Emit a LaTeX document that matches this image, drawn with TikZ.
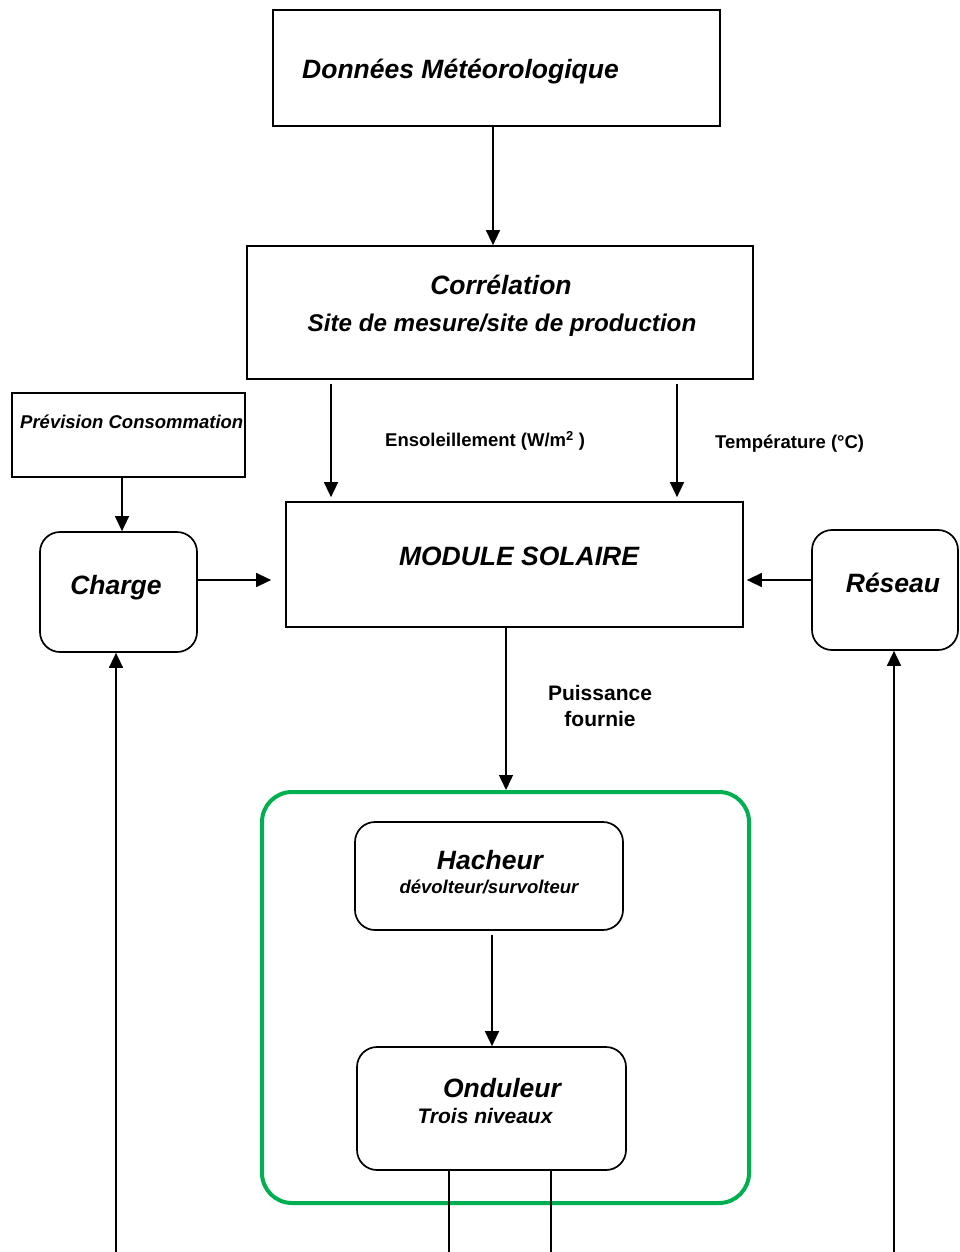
\documentclass[tikz,border=0pt]{standalone}
\usepackage{fontspec}
\setmainfont{Liberation Sans}
\usetikzlibrary{arrows.meta,calc}
\definecolor{boxgreen}{RGB}{0,176,80}
\begin{document}
\begin{tikzpicture}[x=1pt,y=-1pt,
  box/.style={draw,line width=1.7pt,inner sep=0pt},
  rbox/.style={box,rounded corners=20pt},
  conn/.style={line width=1.4pt,-{Triangle[length=15pt,width=14pt]}},
  wire/.style={line width=1.4pt},
  big/.style={font=\fontsize{26.5}{30}\selectfont\bfseries\itshape,inner sep=0pt,anchor=base},
  bigs/.style={font=\fontsize{24.2}{28}\selectfont\bfseries\itshape,inner sep=0pt,anchor=base},
  mid/.style={font=\fontsize{21}{24}\selectfont\bfseries\itshape,inner sep=0pt,anchor=base},
  small/.style={font=\fontsize{18.5}{22}\selectfont\bfseries\itshape,inner sep=0pt,anchor=base},
  lab/.style={font=\fontsize{18.5}{22}\selectfont\bfseries,inner sep=0pt,anchor=base},
  labm/.style={font=\fontsize{21}{24}\selectfont\bfseries,inner sep=0pt,anchor=base},
]
\useasboundingbox (0,0) rectangle (960,1252);

% blocks
\node[box,minimum width=447pt,minimum height=116pt] (meteo) at (496.5,68) {};
\node[box,minimum width=506pt,minimum height=133pt] (correl) at (500,312.5) {};
\node[box,minimum width=233pt,minimum height=84pt] (prev) at (128.5,435) {};
\node[rbox,minimum width=157pt,minimum height=120pt] (charge) at (118.5,592) {};
\node[box,minimum width=457pt,minimum height=125pt] (module) at (514.5,564.5) {};
\node[rbox,minimum width=146pt,minimum height=120pt] (reseau) at (885,590) {};
\node[draw=boxgreen,line width=4pt,rounded corners=30pt,inner sep=0pt,
      minimum width=487pt,minimum height=411pt] (green) at (505.5,997.5) {};
\node[rbox,minimum width=268pt,minimum height=108pt] (hacheur) at (489,876) {};
\node[rbox,minimum width=269pt,minimum height=123pt] (onduleur) at (491.5,1108.5) {};

% texts
\node[big,anchor=base west] (tmeteo) at (302,78.5) {Données Météorologique};
\node[big] (tcorrel) at (501,294.5) {Corrélation};
\node[bigs] (tsite) at (502,331) {Site de mesure/site de production};
\node[small,anchor=base west] (tprev) at (20,428.6) {Prévision Consommation};
\node[lab,anchor=base west] (tsol) at (385,446.6) {Ensoleillement (W/m\textsuperscript{2} )};
\node[lab,anchor=base west] (ttemp) at (715,448.6) {Température (°C)};
\node[big] (tcharge) at (116,594.5) {Charge};
\node[big] (tmodule) at (519,565.5) {MODULE SOLAIRE};
\node[big] (treseau) at (893,592.5) {Réseau};
\node[labm] (tpuis) at (600,700.5) {Puissance};
\node[labm] (tfour) at (600,726.5) {fournie};
\node[big] (thach) at (490,869.5) {Hacheur};
\node[small] (tdev) at (489,893.6) {dévolteur/survolteur};
\node[big] (tond) at (502,1097.5) {Onduleur};
\node[mid] (ttrois) at (485,1123.5) {Trois niveaux};

% anchor points for connectors
\coordinate (mo) at ([xshift=-3.5pt]meteo.south);
\coordinate (c1) at ([xshift=-169pt,yshift=-4pt]correl.south);
\coordinate (c2) at ([xshift=177pt,yshift=-4pt]correl.south);
\coordinate (mtop) at ([yshift=4pt]module.north);
\coordinate (po) at ([xshift=-6.5pt]prev.south);
\coordinate (chout) at ([yshift=12pt]charge.east);
\coordinate (modin) at ([xshift=-14pt]module.west);
\coordinate (rsout) at ([yshift=10pt]reseau.west);
\coordinate (modr) at ([xshift=3pt]module.east);
\coordinate (mout) at ([xshift=-8.5pt]module.south);
\coordinate (hd) at ([xshift=3pt,yshift=-4pt]hacheur.south);
\coordinate (cb) at (116,1252);
\coordinate (rb) at (894,1252);
\coordinate (o1) at (449,1252);
\coordinate (o2) at (551,1252);

% connectors
\draw[conn] (mo) -- (mo |- correl.north);
\draw[conn] (c1) -- (c1 |- mtop);
\draw[conn] (c2) -- (c2 |- mtop);
\draw[conn] (po) -- (po |- charge.north);
\draw[conn] (chout) -- (modin |- chout);
\draw[conn] (rsout) -- (modr |- rsout);
\draw[conn] (mout) -- (mout |- green.north);
\draw[conn] (hd) -- (hd |- onduleur.north);
\draw[conn] (cb) -- (cb |- charge.south);
\draw[conn] (rb) -- (rb |- reseau.south);
\draw[wire] (o1 |- onduleur.south) -- (o1);
\draw[wire] (o2 |- onduleur.south) -- (o2);
\end{tikzpicture}
\end{document}
